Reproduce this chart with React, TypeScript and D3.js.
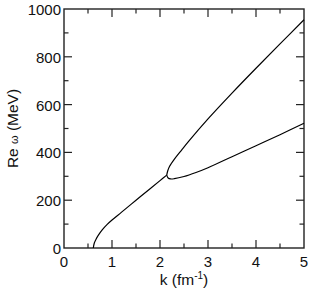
import React from "react";
import * as d3 from "d3";

// lower branch from threshold up to the crossing point
const kLow = [0.61, 0.63, 0.67, 0.72, 0.8, 0.9, 1.0, 1.2, 1.5, 1.8, 2.0, 2.14];
const wLow = [0, 20, 38, 55, 77, 99, 117, 150, 200, 249, 282, 305];

// upper branch after crossing
const kUp = [2.14, 2.16, 2.2, 2.3, 2.45, 2.6, 3.0, 3.5, 4.0, 4.5, 5.0];
const wUp = [305, 322, 342, 372, 410, 447, 540, 648, 752, 854, 955];

// second branch after crossing
const kSec = [2.14, 2.17, 2.22, 2.3, 2.5, 2.75, 3.0, 3.5, 4.0, 4.5, 5.0];
const wSec = [305, 293, 289, 290, 299, 316, 336, 382, 428, 474, 522];

const xMajor = [0, 1, 2, 3, 4, 5];
const yMajor = [0, 200, 400, 600, 800, 1000];

const W = 309;
const H = 289;
const m = { left: 64, top: 9, right: 5, bottom: 41 };

export default function App() {
  const x = d3.scaleLinear().domain([0, 5]).range([m.left, W - m.right]);
  const y = d3.scaleLinear().domain([0, 1000]).range([H - m.bottom, m.top]);
  const line = d3
    .line<[number, number]>()
    .x((d) => x(d[0]))
    .y((d) => y(d[1]))
    .curve(d3.curveCatmullRom.alpha(0.5));

  const zip = (a: number[], b: number[]) => a.map((v, i) => [v, b[i]] as [number, number]);
  const series = [zip(kLow, wLow), zip(kUp, wUp), zip(kSec, wSec)];

  const xMinor = d3.range(0.5, 5, 1);
  const yMinor = d3.range(100, 1000, 200);
  const x0 = m.left, x1 = W - m.right, y0 = H - m.bottom, y1 = m.top;
  const big = 8, small = 4.5;
  const font = "Liberation Sans, Arial, sans-serif";

  return (
    <svg width={W} height={H} style={{ position: "absolute", left: 0, top: 0 }} fontFamily={font}>
      <g stroke="#222" strokeWidth={1.2}>
        {xMajor.slice(1, -1).map((t) => (
          <g key={"xm" + t}>
            <line x1={x(t)} x2={x(t)} y1={y0} y2={y0 - big} />
            <line x1={x(t)} x2={x(t)} y1={y1} y2={y1 + big} />
          </g>
        ))}
        {xMinor.map((t) => (
          <g key={"xn" + t}>
            <line x1={x(t)} x2={x(t)} y1={y0} y2={y0 - small} />
            <line x1={x(t)} x2={x(t)} y1={y1} y2={y1 + small} />
          </g>
        ))}
        {yMajor.slice(1, -1).map((t) => (
          <g key={"ym" + t}>
            <line x1={x0} x2={x0 + big} y1={y(t)} y2={y(t)} />
            <line x1={x1} x2={x1 - big} y1={y(t)} y2={y(t)} />
          </g>
        ))}
        {yMinor.map((t) => (
          <g key={"yn" + t}>
            <line x1={x0} x2={x0 + small} y1={y(t)} y2={y(t)} />
            <line x1={x1} x2={x1 - small} y1={y(t)} y2={y(t)} />
          </g>
        ))}
        <rect x={x0} y={y1} width={x1 - x0} height={y0 - y1} fill="none" strokeWidth={1.4} />
      </g>
      {series.map((s, i) => (
        <path key={i} d={line(s) || ""} fill="none" stroke="#000" strokeWidth={1.2} />
      ))}
      <g fontSize={15} fill="#111">
        {xMajor.map((t) => (
          <text key={"xl" + t} x={x(t)} y={267} textAnchor="middle">
            {t}
          </text>
        ))}
        {yMajor.map((t) => (
          <text key={"yl" + t} x={61} y={y(t) + 6} textAnchor="end">
            {t}
          </text>
        ))}
        <text x={x(2.5)} y={285} textAnchor="middle" fontSize={15.5}>
          k (fm<tspan fontSize={10} dy={-6}>-1</tspan>
          <tspan dy={6}>)</tspan>
        </text>
        <text transform={`translate(18,${(y0 + y1) / 2}) rotate(-90)`} textAnchor="middle" fontSize={15.5}>
          Re <tspan fontSize={11}>ω</tspan> (MeV)
        </text>
      </g>
    </svg>
  );
}
